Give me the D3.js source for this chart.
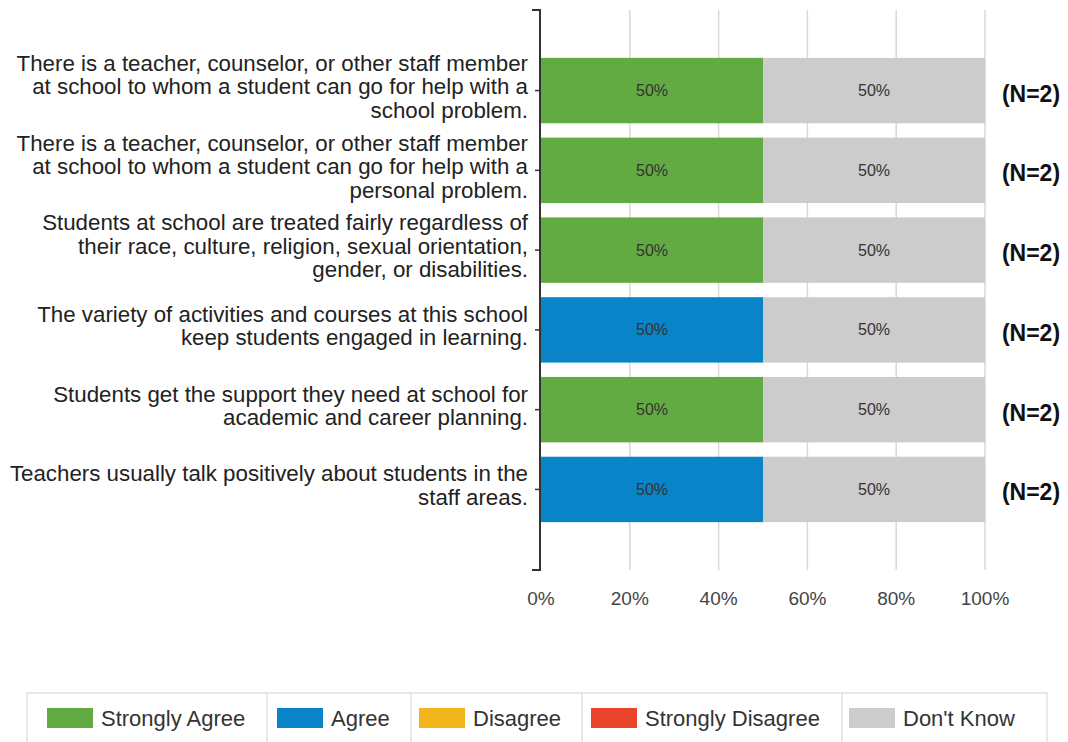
<!DOCTYPE html>
<html>
<head>
<meta charset="utf-8">
<script src="https://cdn.jsdelivr.net/npm/d3@7"></script>
<style>
  html, body { margin: 0; padding: 0; background: #fff; }
  svg { display: block; font-family: "Liberation Sans", Arial, sans-serif; }
</style>
</head>
<body>
<svg id="chart" width="1068" height="742"></svg>
<script>
// ---- data ----
const categories = [
  ["There is a teacher, counselor, or other staff member", "at school to whom a student can go for help with a", "school problem."],
  ["There is a teacher, counselor, or other staff member", "at school to whom a student can go for help with a", "personal problem."],
  ["Students at school are treated fairly regardless of", "their race, culture, religion, sexual orientation,", "gender, or disabilities."],
  ["The variety of activities and courses at this school", "keep students engaged in learning."],
  ["Students get the support they need at school for", "academic and career planning."],
  ["Teachers usually talk positively about students in the", "staff areas."]
];
const seriesNames = ["Strongly Agree", "Agree", "Disagree", "Strongly Disagree", "Don't Know"];
const stronglyAgree    = [0.5, 0.5, 0.5, 0, 0.5, 0];
const agree            = [0, 0, 0, 0.5, 0, 0.5];
const disagree         = [0, 0, 0, 0, 0, 0];
const stronglyDisagree = [0, 0, 0, 0, 0, 0];
const dontKnow         = [0.5, 0.5, 0.5, 0.5, 0.5, 0.5];
const nCounts = [2, 2, 2, 2, 2, 2];
const xTicks = [0, 0.2, 0.4, 0.6, 0.8, 1.0];
const colors = ["#62ab42", "#0a84c8", "#f2b51c", "#e8452a", "#cccccc"];

// ---- build ----
const seriesValues = [stronglyAgree, agree, disagree, stronglyDisagree, dontKnow];
const rows = categories.map((c, i) => {
  const r = { idx: i };
  seriesNames.forEach((s, j) => r[s] = seriesValues[j][i]);
  return r;
});
const stack = d3.stack().keys(seriesNames)(rows);

const svg = d3.select("#chart");
const x = d3.scaleLinear().domain([0, 1]).range([541, 985]);
const y = d3.scaleBand().domain(d3.range(categories.length)).range([10, 570])
  .paddingInner(0.18).paddingOuter(0.6);
const color = d3.scaleOrdinal().domain(seriesNames).range(colors);

// gridlines
svg.append("g").selectAll("line").data(xTicks.slice(1)).join("line")
  .attr("x1", d => x(d)).attr("x2", d => x(d))
  .attr("y1", 10).attr("y2", 570)
  .attr("stroke", "#d9d9d9").attr("stroke-width", 1.5);

// bars
const g = svg.append("g");
stack.forEach(layer => {
  g.append("g").selectAll("rect").data(layer.filter(d => d[1] - d[0] > 0)).join("rect")
    .attr("x", d => x(d[0]))
    .attr("width", d => x(d[1]) - x(d[0]))
    .attr("y", d => y(d.data.idx))
    .attr("height", y.bandwidth())
    .attr("fill", color(layer.key));
  g.append("g").selectAll("text").data(layer.filter(d => d[1] - d[0] > 0)).join("text")
    .attr("x", d => (x(d[0]) + x(d[1])) / 2)
    .attr("y", d => y(d.data.idx) + y.bandwidth() / 2)
    .attr("dy", "0.35em")
    .attr("text-anchor", "middle")
    .attr("font-size", 16)
    .attr("fill", "#333")
    .text(d => d3.format(".0%")(d[1] - d[0]));
});

// y axis
const yAxis = svg.append("g");
yAxis.append("path")
  .attr("d", `M532,10H540V570H532`)
  .attr("fill", "none").attr("stroke", "#333").attr("stroke-width", 2);
yAxis.selectAll("line.tick").data(d3.range(categories.length)).join("line")
  .attr("class", "tick")
  .attr("x1", 535).attr("x2", 540)
  .attr("y1", d => y(d) + y.bandwidth() / 2).attr("y2", d => y(d) + y.bandwidth() / 2)
  .attr("stroke", "#333").attr("stroke-width", 1.5);
const lh = 23.5;
yAxis.selectAll("text.lab").data(categories).join("text")
  .attr("class", "lab")
  .attr("text-anchor", "end")
  .attr("font-size", 22.3)
  .attr("fill", "#222")
  .each(function (lines, i) {
    const cy = y(i) + y.bandwidth() / 2 - 4;
    const t0 = cy - (lines.length - 1) * lh / 2;
    d3.select(this).selectAll("tspan").data(lines).join("tspan")
      .attr("x", 528)
      .attr("y", (d, k) => t0 + k * lh)
      .attr("dy", "0.35em")
      .text(d => d);
  });

// x tick labels
svg.append("g").selectAll("text").data(xTicks).join("text")
  .attr("x", d => x(d)).attr("y", 598).attr("dy", "0.35em")
  .attr("text-anchor", "middle").attr("font-size", 19).attr("fill", "#444")
  .text(d => d3.format(".0%")(d));

// N labels
svg.append("g").selectAll("text").data(nCounts).join("text")
  .attr("x", 1031).attr("y", (d, i) => y(i) + y.bandwidth() / 2 + 3).attr("dy", "0.35em")
  .attr("text-anchor", "middle").attr("font-size", 23).attr("font-weight", "bold").attr("fill", "#111")
  .text(d => `(N=${d})`);

// legend
const legend = svg.append("g");
const legX = [27, 267, 411, 582, 842, 1047];
const swX = [47, 277, 419, 591, 849];
legend.append("rect").attr("x", 27).attr("y", 693).attr("width", 1047 - 27).attr("height", 60)
  .attr("fill", "#fff").attr("stroke", "#e0e0e0").attr("stroke-width", 1.5);
legend.selectAll("line").data(legX.slice(1, -1)).join("line")
  .attr("x1", d => d).attr("x2", d => d).attr("y1", 693).attr("y2", 742)
  .attr("stroke", "#e0e0e0").attr("stroke-width", 1.5);
const items = legend.selectAll("g.item").data(seriesNames).join("g").attr("class", "item")
  .attr("transform", (d, i) => `translate(${swX[i]},0)`);
items.append("rect").attr("x", 0).attr("y", 708).attr("width", 46).attr("height", 20)
  .attr("fill", d => color(d));
items.append("text").attr("x", 54).attr("y", 718).attr("dy", "0.35em")
  .attr("font-size", 22).attr("fill", "#333").text(d => d);
</script>
</body>
</html>
